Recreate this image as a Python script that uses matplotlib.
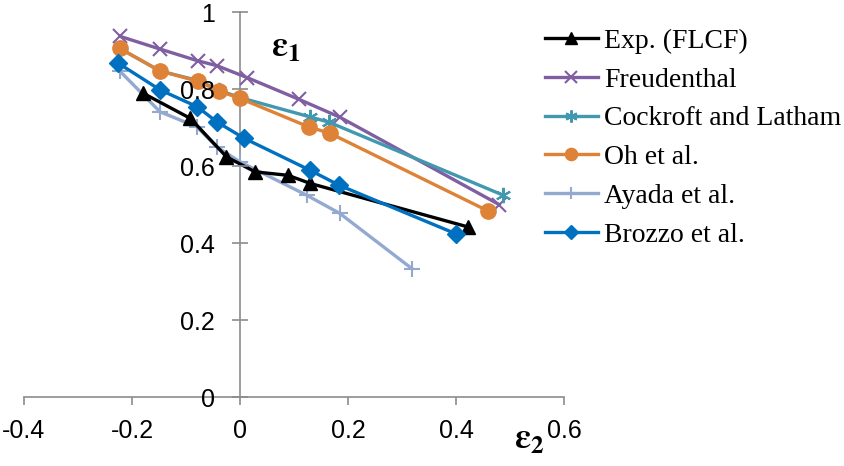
import matplotlib
matplotlib.use("Agg")
import matplotlib.pyplot as plt

plt.rcParams['mathtext.fontset'] = 'stix'

# data (eps2, eps1)
exp_x = [-0.179, -0.092, -0.025, 0.028, 0.089, 0.130, 0.422]
exp_y = [0.789, 0.724, 0.624, 0.585, 0.576, 0.555, 0.442]

freu_x = [-0.222, -0.148, -0.077, -0.043, 0.013, 0.110, 0.185, 0.480]
freu_y = [0.937, 0.904, 0.873, 0.861, 0.830, 0.773, 0.727, 0.500]

cock_x = [-0.223, -0.148, -0.077, -0.039, 0.0, 0.129, 0.165, 0.488]
cock_y = [0.906, 0.847, 0.822, 0.797, 0.778, 0.728, 0.714, 0.524]

oh_x = [-0.223, -0.148, -0.077, -0.039, 0.0, 0.127, 0.167, 0.460]
oh_y = [0.906, 0.847, 0.820, 0.795, 0.776, 0.702, 0.685, 0.483]

ayada_x = [-0.222, -0.148, -0.080, -0.043, 0.0, 0.124, 0.185, 0.319]
ayada_y = [0.846, 0.741, 0.702, 0.650, 0.611, 0.524, 0.477, 0.333]

brozzo_x = [-0.225, -0.148, -0.079, -0.043, 0.008, 0.130, 0.184, 0.400]
brozzo_y = [0.867, 0.798, 0.754, 0.715, 0.672, 0.589, 0.550, 0.424]

xticks = [-0.4, -0.2, 0, 0.2, 0.4, 0.6]
yticks = [0, 0.2, 0.4, 0.6, 0.8, 1]

fig = plt.figure(figsize=(8.45, 4.66), dpi=100)
ax = fig.add_axes([0.0284, 0.148, 0.639, 0.826])

lw = 2.4
ax.plot(freu_x, freu_y, color='#7F5FA1', lw=lw, marker='x', ms=10, mew=1.5, label='Freudenthal', zorder=3)
ax.plot(cock_x, cock_y, color='#4198AF', lw=lw, marker=(6, 2, 0), ms=11, mew=1.5, label='Cockroft and Latham', zorder=3)
ax.plot(oh_x, oh_y, color='#DE8238', lw=lw, marker='o', ms=11, label='Oh et al.', zorder=4)
ax.plot(ayada_x, ayada_y, color='#94A9D0', lw=lw, marker='+', ms=11, mew=1.5, label='Ayada et al.', zorder=3)
ax.plot(exp_x, exp_y, color='black', lw=lw, marker='^', ms=10, label='Exp. (FLCF)', zorder=5)
ax.plot(brozzo_x, brozzo_y, color='#0070C0', lw=lw, marker='D', ms=9, label='Brozzo et al.', zorder=6)

ax.set_xlim(-0.4, 0.6)
ax.set_ylim(0, 1)

for s in ['top', 'right']:
    ax.spines[s].set_visible(False)
ax.spines['left'].set_position(('data', 0))
ax.spines['bottom'].set_position(('data', 0))
for s in ['left', 'bottom']:
    ax.spines[s].set_color('#8C8C8C')
    ax.spines[s].set_linewidth(1.2)

ax.set_xticks(xticks)
ax.set_xticklabels(['-0.4', '-0.2', '0', '0.2', '0.4', '0.6'])
ax.set_yticks(yticks)
ax.set_yticklabels(['0', '0.2', '0.4', '0.6', '0.8', '1'])
ax.tick_params(axis='x', direction='out', length=6, width=1.2, color='#8C8C8C', labelsize=18, pad=10)
ax.tick_params(axis='y', direction='inout', length=12, width=1.2, color='#8C8C8C', labelsize=18, pad=12)
for t in ax.get_xticklabels() + ax.get_yticklabels():
    t.set_fontfamily('Liberation Sans')
ax.yaxis.set_zorder(10)  # y labels sit on top of the curves

ax.text(0.085, 0.91, r'$\mathbf{\varepsilon_1}$', fontsize=26, ha='center', va='center')
ax.text(0.535, -0.11, r'$\mathbf{\varepsilon_2}$', fontsize=26, ha='center', va='center',
        clip_on=False)

# legend in the order of the original
h, l = ax.get_legend_handles_labels()
order = ['Exp. (FLCF)', 'Freudenthal', 'Cockroft and Latham', 'Oh et al.', 'Ayada et al.', 'Brozzo et al.']
hh = [h[l.index(n)] for n in order]
leg = fig.legend(hh, order, loc='upper left', bbox_to_anchor=(0.635, 0.957), frameon=False,
                 prop={'family': 'Liberation Serif', 'size': 20}, handlelength=1.9,
                 handletextpad=0.22, labelspacing=0.48, markerscale=0.8,
                 borderaxespad=0, borderpad=0.3)

fig.savefig('out.png', dpi=100)
